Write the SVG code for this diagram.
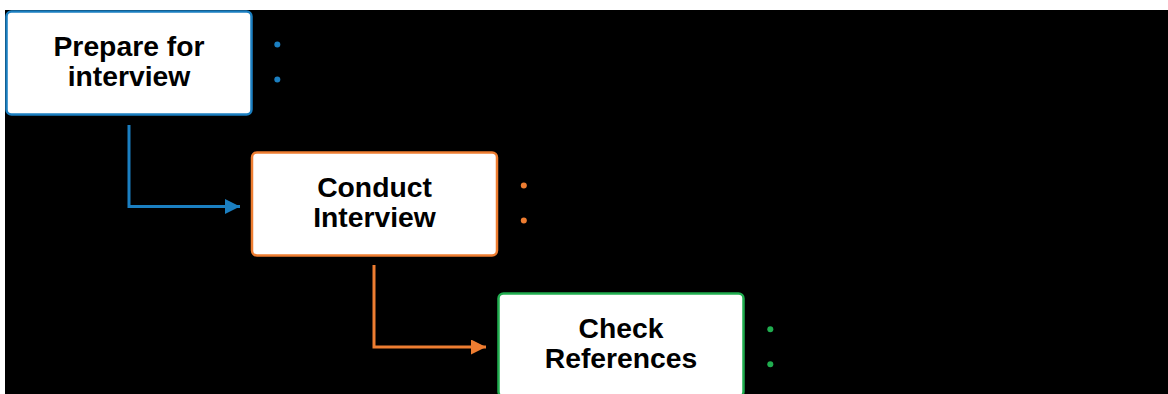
<svg xmlns="http://www.w3.org/2000/svg" width="1168" height="394" viewBox="0 0 1168 394">
  <defs>
    <style>
      .box{fill:#ffffff;stroke-width:2.5}
      .lbl{font-family:"Liberation Sans",Arial,sans-serif;font-weight:bold;font-size:28.3px;fill:#000000;text-anchor:middle}
      .conn{fill:none;stroke-width:3}
      .blue{stroke:#1b7fc1}
      .orange{stroke:#ee7d31}
      .green{stroke:#20ad4f}
    </style>
    <marker id="arrBlue" markerUnits="userSpaceOnUse" markerWidth="16" markerHeight="16" refX="15" refY="7.5" orient="auto">
      <path d="M0,0 L15,7.5 L0,15 Z" fill="#1b7fc1"/>
    </marker>
    <marker id="arrOrange" markerUnits="userSpaceOnUse" markerWidth="16" markerHeight="16" refX="15" refY="7.5" orient="auto">
      <path d="M0,0 L15,7.5 L0,15 Z" fill="#ee7d31"/>
    </marker>
  </defs>
  <rect x="0" y="0" width="1168" height="394" fill="#ffffff"/>
  <rect x="5" y="10" width="1163" height="384" fill="#000000"/>

  <g id="connectors">
    <path class="conn blue" d="M129,125 V206.5 H240" marker-end="url(#arrBlue)"/>
    <path class="conn orange" d="M374,265 V347 H486" marker-end="url(#arrOrange)"/>
  </g>

  <g id="node-prepare">
    <rect class="box blue" x="6.5" y="11.5" width="245" height="103" rx="5"/>
    <text class="lbl" x="129" y="55.5">Prepare for</text>
    <text class="lbl" x="129" y="85.5">interview</text>
    <circle cx="277.3" cy="44.5" r="3" fill="#1b7fc1"/>
    <circle cx="277.3" cy="79.5" r="3" fill="#1b7fc1"/>
  </g>

  <g id="node-conduct">
    <rect class="box orange" x="252" y="152.5" width="245" height="103" rx="5"/>
    <text class="lbl" x="374.5" y="197">Conduct</text>
    <text class="lbl" x="374.5" y="227">Interview</text>
    <circle cx="523.8" cy="185.5" r="3" fill="#ee7d31"/>
    <circle cx="523.8" cy="220.5" r="3" fill="#ee7d31"/>
  </g>

  <g id="node-check">
    <rect class="box green" x="498.5" y="293.5" width="245" height="103" rx="5"/>
    <text class="lbl" x="621" y="338">Check</text>
    <text class="lbl" x="621" y="368">References</text>
    <circle cx="770.3" cy="329.3" r="3" fill="#20ad4f"/>
    <circle cx="770.3" cy="364.3" r="3" fill="#20ad4f"/>
  </g>
</svg>
